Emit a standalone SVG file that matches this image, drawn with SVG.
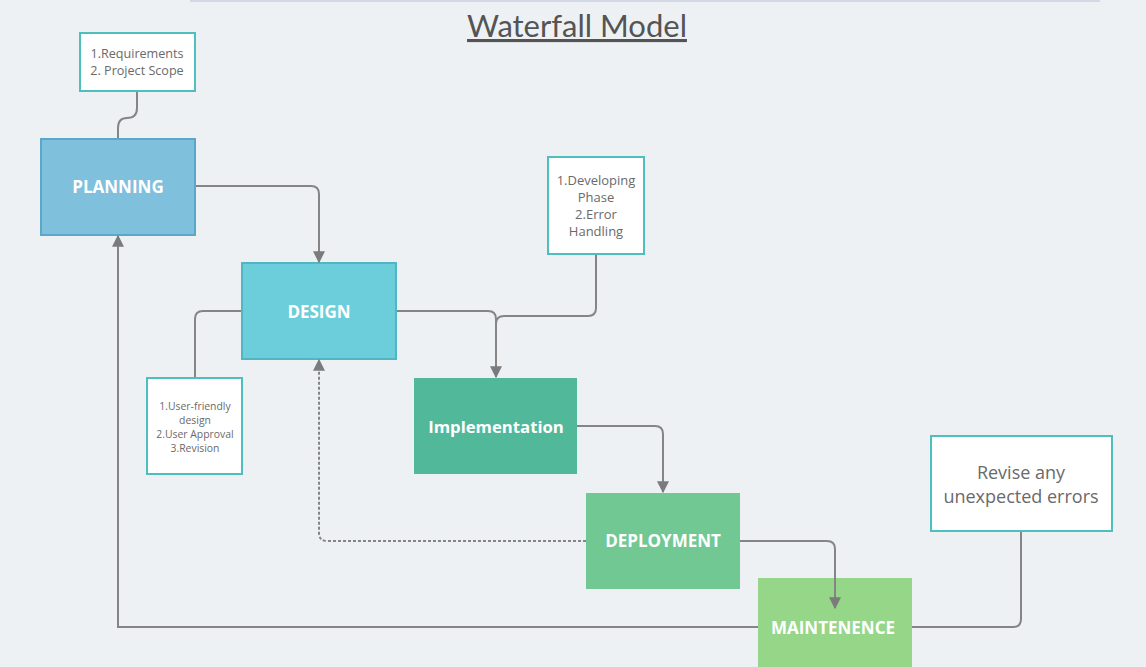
<svg xmlns="http://www.w3.org/2000/svg" width="1146" height="667" viewBox="0 0 1146 667">
<defs>
<marker id="arr" viewBox="0 0 10 10" refX="9" refY="5" markerWidth="6" markerHeight="6" markerUnits="strokeWidth" orient="auto">
<path d="M0,0 L10,5 L0,10 z" fill="#7b7b7b"/>
</marker>
<style>
.conn{fill:none;stroke:#858585;stroke-width:2}
.dash{stroke-dasharray:3 2}
.phase text{font-family:"Open Sans","Noto Sans",sans-serif;font-weight:bold;fill:#ffffff;text-anchor:middle}
.note rect{fill:#ffffff;stroke:#4dbfbf;stroke-width:2}
.note text{font-family:"Open Sans","Noto Sans",sans-serif;fill:#6a6a6a;text-anchor:middle}
</style>
</defs>
<rect width="1146" height="667" fill="#edf1f4"/>
<rect x="190" y="0" width="910" height="2" fill="#d3d9e4"/>
<text x="577" y="37" font-family="Lato,'Open Sans',sans-serif" font-size="31" fill="#545454" text-anchor="middle" text-decoration="underline">Waterfall Model</text>

<g id="planning" class="phase">
<rect x="41" y="139" width="154" height="96" fill="#7fc0dd" stroke="#5aa7c9" stroke-width="2"/>
<text x="118" y="193" font-size="17">PLANNING</text>
</g>
<g id="design" class="phase">
<rect x="242" y="263" width="154" height="96" fill="#6dcedb" stroke="#4fb6c5" stroke-width="2"/>
<text x="319" y="318" font-size="17">DESIGN</text>
</g>
<g id="implementation" class="phase">
<rect x="414" y="378" width="163" height="96" fill="#52b89a"/>
<text x="496" y="433" font-size="16.7">Implementation</text>
</g>
<g id="deployment" class="phase">
<rect x="586" y="493" width="154" height="96" fill="#72c893"/>
<text x="663" y="547" font-size="17">DEPLOYMENT</text>
</g>
<g id="maintenence" class="phase">
<rect x="758" y="578" width="154" height="92" fill="#96d689"/>
<text x="833" y="634" font-size="17">MAINTENENCE</text>
</g>

<g id="note-planning" class="note">
<rect x="80" y="33" width="115" height="58"/>
<text x="137" y="58" font-size="12.6">1.Requirements</text>
<text x="137" y="75" font-size="12.6">2. Project Scope</text>
</g>
<g id="note-implementation" class="note">
<rect x="548" y="157" width="96" height="97"/>
<text x="596" y="185" font-size="13">1.Developing</text>
<text x="596" y="202" font-size="13">Phase</text>
<text x="596" y="219" font-size="13">2.Error</text>
<text x="596" y="236" font-size="13">Handling</text>
</g>
<g id="note-design" class="note">
<rect x="147" y="378" width="95" height="96"/>
<text x="195" y="410" font-size="10.4">1.User-friendly</text>
<text x="195" y="424" font-size="10.4">design</text>
<text x="195" y="438" font-size="10.4">2.User Approval</text>
<text x="195" y="452" font-size="10.4">3.Revision</text>
</g>
<g id="note-maintenence" class="note">
<rect x="931" y="436" width="181" height="95"/>
<text x="1021" y="479" font-size="18">Revise any</text>
<text x="1021" y="503" font-size="18">unexpected errors</text>
</g>

<g id="connectors">
<path class="conn" d="M137,92 V108 Q137,118 127,118 Q118,118 118,128 V138"/>
<path class="conn" d="M196,186 H311 Q319,186 319,194 V262" marker-end="url(#arr)"/>
<path class="conn" d="M397,311 H488 Q496,311 496,319 V377" marker-end="url(#arr)"/>
<path class="conn" d="M596,255 V308 Q596,316 588,316 H504 Q496,316 496,324"/>
<path class="conn" d="M195,377 V319 Q195,311 203,311 H241"/>
<path class="conn" d="M577,426 H655 Q663,426 663,434 V492" marker-end="url(#arr)"/>
<path class="conn dash" d="M586,541 H327 Q319,541 319,533 V360" marker-end="url(#arr)"/>
<path class="conn" d="M740,541 H827 Q835,541 835,549 V608" marker-end="url(#arr)"/>
<path class="conn" d="M758,627 H118 V236" marker-end="url(#arr)"/>
<path class="conn" d="M1021,532 V619 Q1021,627 1013,627 H912"/>
</g>
</svg>
